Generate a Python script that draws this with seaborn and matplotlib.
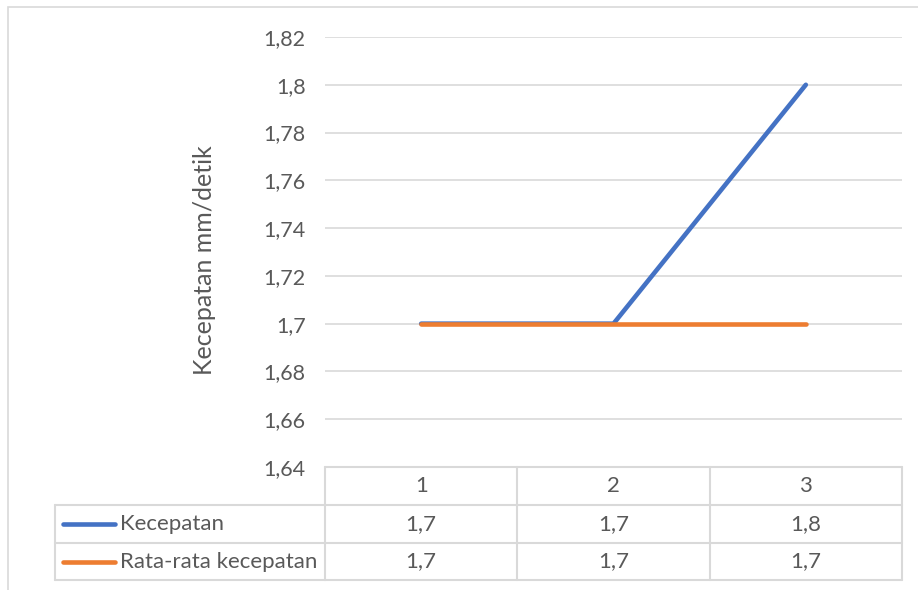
import matplotlib
matplotlib.use("Agg")
import matplotlib.pyplot as plt
from matplotlib.lines import Line2D
from matplotlib.patches import Rectangle
from matplotlib.transforms import blended_transform_factory
import seaborn as sns
import pandas as pd

# Data
categories = [1, 2, 3]
kecepatan = [1.7, 1.7, 1.8]
rata_rata = [1.7, 1.7, 1.7]
series_names = ["Kecepatan", "Rata-rata kecepatan"]
series_values = [kecepatan, rata_rata]
series_colors = ["#4472C4", "#ED7D31"]
y_ticks = [1.64, 1.66, 1.68, 1.70, 1.72, 1.74, 1.76, 1.78, 1.80, 1.82]
y_label = "Kecepatan mm/detik"

sns.set_theme(style="white")
plt.rcParams["font.family"] = ["Lato", "DejaVu Sans"]

W, H = 918, 590
fig = plt.figure(figsize=(W / 100, H / 100), dpi=100)
fig.patch.set_facecolor("white")

def fx(px):
    return px / W

def fy(py):
    return 1 - py / H

def fmt(v):
    return f"{v:g}".replace(".", ",")

text_color = "#595959"
grid_color = "#D9D9D9"
fs_tick = 15.5
fs_table = 16
fs_label = 18

# Plot area
left, right, top, bottom = 325, 902, 37, 467
ax = fig.add_axes([fx(left), fy(bottom), fx(right - left), (bottom - top) / H])

df = pd.DataFrame({
    "x": categories * len(series_names),
    "y": kecepatan + rata_rata,
    "series": [series_names[0]] * len(categories) + [series_names[1]] * len(categories),
})
sns.lineplot(data=df, x="x", y="y", hue="series", palette=series_colors,
             linewidth=3.3, legend=False, ax=ax, zorder=3,
             solid_capstyle="round")

ax.set_xlim(0.5, 3.5)
ax.set_ylim(y_ticks[0], y_ticks[-1])
ax.set_yticks(y_ticks)
ax.set_yticklabels([fmt(v) for v in y_ticks], fontsize=fs_tick, color=text_color)
ax.tick_params(axis="y", length=0, pad=14)
ax.set_xticks([])
ax.set_xlabel("")
ax.set_ylabel(y_label, fontsize=fs_label, color=text_color)
ax.yaxis.set_label_coords(-0.189, 0.48)
ax.yaxis.grid(True, color=grid_color, linewidth=1.2)
for s in ax.spines.values():
    s.set_visible(False)
ax.set_facecolor("none")

# Data table below the plot area
trans = blended_transform_factory(ax.transData, fig.transFigure)
line_kw = dict(color=grid_color, linewidth=1.5, zorder=1)
row_edges = [467, 505, 543, 580]
col_edges = [c - 0.5 for c in categories] + [categories[-1] + 0.5]
legend_left = 55

# horizontal rules
fig.add_artist(Line2D([col_edges[0], col_edges[-1]], [fy(row_edges[0])] * 2,
                      transform=trans, **line_kw))
for py in row_edges[1:]:
    fig.add_artist(Line2D([fx(legend_left), fx(left)], [fy(py)] * 2,
                          transform=fig.transFigure, **line_kw))
    fig.add_artist(Line2D([col_edges[0], col_edges[-1]], [fy(py)] * 2,
                          transform=trans, **line_kw))

# vertical rules
for c in col_edges:
    fig.add_artist(Line2D([c, c], [fy(row_edges[0]), fy(row_edges[-1])],
                          transform=trans, **line_kw))
fig.add_artist(Line2D([fx(legend_left)] * 2, [fy(row_edges[1]), fy(row_edges[-1])],
                      transform=fig.transFigure, **line_kw))

# header row
hy = (row_edges[0] + row_edges[1]) / 2
for c in categories:
    fig.text(c, fy(hy), str(c), transform=trans, ha="center", va="center",
             fontsize=fs_table, color=text_color)

# series rows with legend keys
for i, (name, vals, col) in enumerate(zip(series_names, series_values, series_colors)):
    ry = (row_edges[i + 1] + row_edges[i + 2]) / 2
    fig.add_artist(Line2D([fx(63), fx(115)], [fy(ry)] * 2,
                          transform=fig.transFigure, color=col, linewidth=3.3,
                          solid_capstyle="round", zorder=3))
    fig.text(fx(120), fy(ry), name, ha="left", va="center",
             fontsize=fs_table, color=text_color)
    for c, v in zip(categories, vals):
        fig.text(c, fy(ry), fmt(v), transform=trans, ha="center", va="center",
                 fontsize=fs_table, color=text_color)

# chart border
fig.add_artist(Rectangle((fx(8), fy(600)), fx(940), (600 - 7) / H,
                         transform=fig.transFigure, fill=False,
                         edgecolor="#D9D9D9", linewidth=1.2))

fig.savefig("out.png", dpi=100, facecolor="white")
